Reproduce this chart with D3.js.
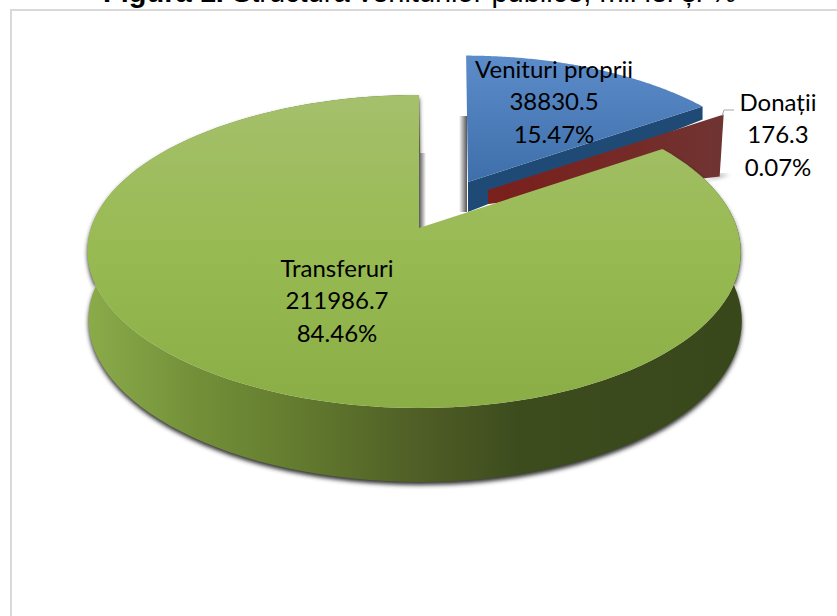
<!DOCTYPE html>
<html>
<head>
<meta charset="utf-8">
<title>Figura 1</title>
<style>
  html, body { margin: 0; padding: 0; background: #fff; overflow: hidden; }
  svg { display: block; }
  .lbl { font-family: Lato, "Open Sans", sans-serif; font-size: 24px; fill: #000; text-anchor: middle; }
  .title { font-family: "Liberation Sans", Arial, sans-serif; font-size: 29px; fill: #000; }
</style>
</head>
<body>
<svg width="837" height="616"></svg>
<script src="https://d3js.org/d3.v7.min.js"></script>
<script>
var categories = ["Venituri proprii", "Donații", "Transferuri"];
var values = [38830.5, 176.3, 211986.7];
var percents = ["15.47%", "0.07%", "84.46%"];

var svg = d3.select("svg");
var defs = svg.append("defs");

function gradient(id, x1, y1, x2, y2, stops) {
  var g = defs.append("linearGradient").attr("id", id)
    .attr("gradientUnits", "userSpaceOnUse")
    .attr("x1", x1).attr("y1", y1).attr("x2", x2).attr("y2", y2);
  stops.forEach(function(s) {
    g.append("stop").attr("offset", s[0]).attr("stop-color", s[1]);
  });
}
gradient("greenTop", 0, 95, 0, 408, [[0, "#a5c06c"], [0.5, "#98ba52"], [1, "#8aad46"]]);
gradient("greenSide", 88, 0, 740, 0, [[0, "#8bab4a"], [0.17, "#728f38"], [0.33, "#627a2e"], [0.5, "#505f26"], [0.66, "#3d4c1d"], [1, "#39481b"]]);
gradient("blueTop", 0, 58, 0, 182, [[0, "#5b8bc8"], [1, "#3e6fab"]]);
gradient("redSide", 488, 0, 724, 0, [[0, "#7a1f1c"], [0.6, "#752a27"], [1, "#6f3533"]]);
gradient("wallShade", 0, 0, 1, 0, [[0, "#fff"], [1, "#555"]]);
defs.select("#wallShade").attr("gradientUnits", "objectBoundingBox");

defs.append("filter").attr("id", "blur")
  .attr("x", "-10%").attr("y", "-10%").attr("width", "120%").attr("height", "120%")
  .append("feGaussianBlur").attr("stdDeviation", 2);

// chart frame, runs off the right and bottom of the crop
svg.append("rect").attr("x", 11).attr("y", 10).attr("width", 900).attr("height", 700)
  .attr("fill", "#fff").attr("stroke", "#d9d9d9").attr("stroke-width", 2);

// title is cut by the top of the picture
var title = svg.append("text").attr("class", "title").attr("x", 103).attr("y", 2);
title.append("tspan").attr("font-weight", "bold").text("Figura 1.");
title.append("tspan").text(" Structura veniturilor publice, mii lei și %");

// slice angles
var pie = d3.pie().sort(null)(values);

// perspective view of a flat disc, radius r in 0..1, angle clockwise from 12 o'clock
var k = -0.15;
function project(a, r, scale, origin, bow, skew) {
  var u = r * Math.sin(a), v = -r * Math.cos(a), w = 1 + k * v;
  return [origin[0] + scale * (323 * u / w + bow * u * u + skew * v), origin[1] + scale * 153 * v / w];
}
function arcPoints(a0, a1, scale, origin, bow, skew) {
  return d3.range(0, 121).map(function(i) {
    return project(a0 + (a1 - a0) * i / 120, 1, scale, origin, bow, skew);
  });
}
var line = d3.line();

var greenO = [419, 228], blueO = [468, 182], redO = [488, 190];
var blue = pie[0], red = pie[1], green = pie[2];

// shadows behind the cut walls
svg.append("rect").attr("x", 459).attr("y", 116).attr("width", 8).attr("height", 96).attr("fill", "url(#wallShade)");

// blue slice
var blueTip = project(blue.endAngle, 1, 0.95, blueO, 3, 2);
svg.append("path")
  .attr("d", line([blueO, blueTip, [blueTip[0], blueTip[1] + 13], [blueO[0], blueO[1] + 30]]) + "Z")
  .attr("fill", "#1f4a75");
svg.append("path")
  .attr("d", line([blueO].concat(arcPoints(blue.startAngle, blue.endAngle, 0.95, blueO, 3, 2))) + "Z")
  .attr("fill", "url(#blueTop)");

// red sliver, only its wall can be seen
var redTip = project(red.startAngle, 1, 0.95, redO, 3, 0);
svg.append("path")
  .attr("d", line([[redTip[0] - 5, redTip[1] + 60], [redTip[0] + 6, redTip[1] + 60], [redTip[0] - 20, redTip[1] + 66]]) + "Z")
  .attr("fill", "#777").attr("filter", "url(#blur)");
svg.append("path")
  .attr("d", line([redO, redTip, [redTip[0] - 4, redTip[1] + 62], [redO[0], redO[1] + 14]]) + "Z")
  .attr("fill", "url(#redSide)");

// green slice: shadow, rim, then face
var rim = arcPoints(green.startAngle, green.endAngle, 1, greenO, -5, 0);
var rimDown = rim.map(function(p) {
  var v = (p[1] - greenO[1]) / 180;
  return [p[0] + 1, p[1] + 68 + 6 * v];
});
var side = rim.concat(rimDown.slice().reverse());
svg.append("path").attr("d", line(side) + "Z")
  .attr("fill", "#333").attr("filter", "url(#blur)").attr("transform", "translate(0,3)");
svg.append("path").attr("d", line(side) + "Z").attr("fill", "url(#greenSide)");
svg.append("rect").attr("x", 419).attr("y", 153).attr("width", 7).attr("height", 75).attr("fill", "url(#wallShade)")
  .attr("transform", "rotate(180 422.5 190.5)");
svg.append("path")
  .attr("d", line([greenO].concat(rim)) + "Z")
  .attr("fill", "url(#greenTop)");

// leader for the small slice
svg.append("path").attr("d", line([[722, 116], [724, 110], [734, 110]]))
  .attr("fill", "none").attr("stroke", "#a6a6a6").attr("stroke-width", 1);

// labels
var labelX = [554, 778, 337], labelY = [78, 111, 277];
categories.forEach(function(c, i) {
  [c, String(values[i]), percents[i]].forEach(function(t, j) {
    svg.append("text").attr("class", "lbl")
      .attr("x", labelX[i]).attr("y", labelY[i] + j * 32.3).text(t);
  });
});
</script>
</body>
</html>
